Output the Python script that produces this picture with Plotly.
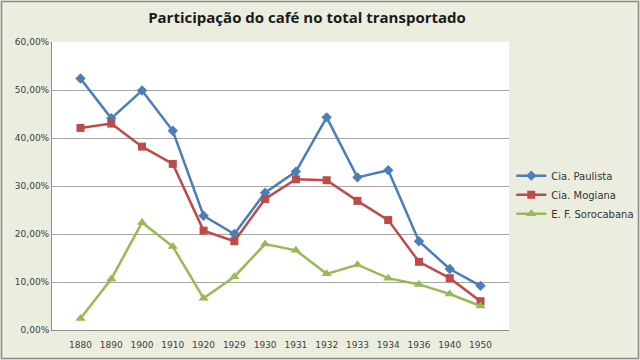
import plotly.graph_objects as go

years = ["1880", "1890", "1900", "1910", "1920", "1929", "1930", "1931", "1932", "1933", "1934", "1936", "1940", "1950"]
paulista = [52.4, 44.1, 49.9, 41.5, 23.8, 20.0, 28.6, 33.0, 44.3, 31.8, 33.3, 18.5, 12.7, 9.2]
mogiana = [42.1, 43.0, 38.2, 34.6, 20.7, 18.5, 27.3, 31.4, 31.2, 26.9, 22.9, 14.2, 10.8, 6.0]
sorocabana = [2.4, 10.6, 22.4, 17.4, 6.6, 11.1, 17.9, 16.6, 11.7, 13.6, 10.8, 9.5, 7.5, 5.0]
tick_vals = [0, 10, 20, 30, 40, 50, 60]
tick_text = ["0,00%", "10,00%", "20,00%", "30,00%", "40,00%", "50,00%", "60,00%"]

W, H = 640, 360
L, R, T, B = 52, 131, 42, 30

fig = go.Figure()
series = [
    ("Cia. Paulista", paulista, "#4A7EBB", "diamond", 8),
    ("Cia. Mogiana", mogiana, "#BE4B48", "square", 8),
    ("E. F. Sorocabana", sorocabana, "#98B954", "triangle-up", 9),
]
for name, vals, color, sym, sz in series:
    fig.add_trace(go.Scatter(
        x=years, y=vals, name=name, mode="lines+markers",
        line=dict(color=color, width=2.5),
        marker=dict(symbol=sym, size=sz, color=color),
    ))

pw = W - L - R
ph = H - T - B
fig.add_shape(type="rect", xref="paper", yref="paper",
              x0=(1.5 - L) / pw, x1=(W - 1.5 - L) / pw,
              y0=-(H - 1.5 - T - ph) / ph, y1=1 + (T - 1.5) / ph,
              line=dict(color="#8C8C8C", width=1.5), layer="below")

fig.update_layout(
    width=W, height=H,
    margin=dict(l=L, r=R, t=T, b=B, autoexpand=False),
    paper_bgcolor="#EBEEDF",
    plot_bgcolor="#FFFFFF",
    title=dict(text="<b>Participação do café no total transportado</b>",
               x=(307) / W, xanchor="center", y=1 - 18 / H, yanchor="middle",
               font=dict(family="Open Sans", size=15, color="#1A1A1A")),
    font=dict(family="DejaVu Sans", size=9, color="#404040"),
    legend=dict(x=1.005, xanchor="left", y=0.47, yanchor="middle",
                bgcolor="rgba(0,0,0,0)", font=dict(size=10, color="#333333"),
                itemwidth=30),
    xaxis=dict(type="category", showgrid=False, showline=True, linecolor="#8C8C8C",
               linewidth=1, ticks="", tickfont=dict(size=9), ticklabelstandoff=6),
    yaxis=dict(range=[0, 60], tickvals=tick_vals, ticktext=tick_text,
               showgrid=True, gridcolor="#A6A6A6", gridwidth=1,
               showline=True, linecolor="#8C8C8C", linewidth=1,
               zeroline=False, ticks="", tickfont=dict(size=9)),
    showlegend=True,
)

fig.write_html("out.html", config={"displayModeBar": False},
               post_script="document.body.style.margin='0';document.body.style.overflow='hidden';")
